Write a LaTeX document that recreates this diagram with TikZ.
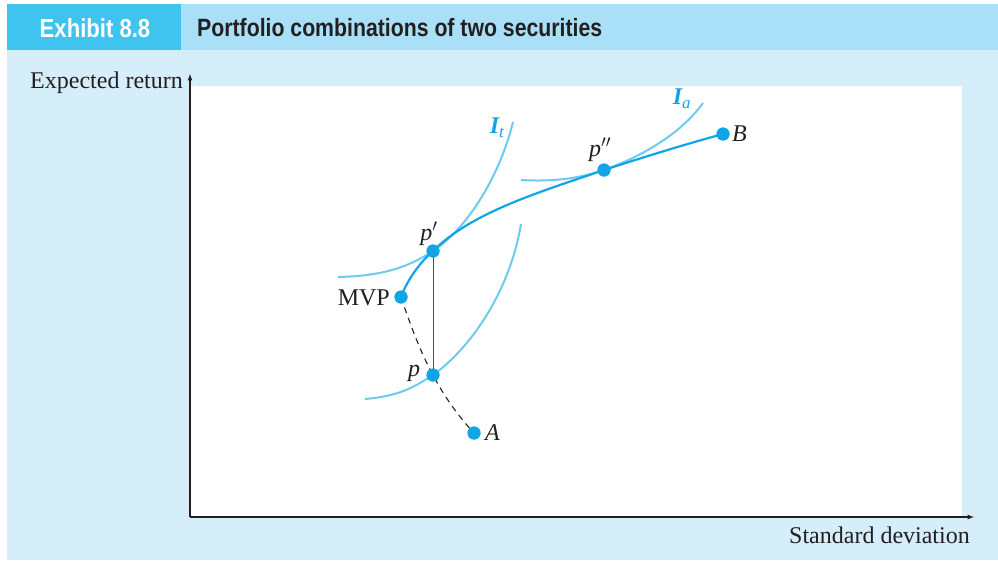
\documentclass[tikz,border=0pt]{standalone}
\usepackage{fontspec}
\setmainfont{Liberation Serif}
\newfontfamily\headfont[FakeStretch=0.85]{Liberation Sans}
\usepackage{tikz}
\usetikzlibrary{calc}
\definecolor{headdark}{HTML}{3FC4F0}
\definecolor{headlight}{HTML}{A9DFF7}
\definecolor{panel}{HTML}{D6EDFA}
\definecolor{indiff}{HTML}{6DCBF2}
\definecolor{front}{HTML}{12A5E6}
\definecolor{inktext}{HTML}{231F20}
\tikzset{indcurve/.style={indiff, line width=2pt}}
\tikzset{frontier/.style={front, line width=2.2pt}}
\tikzset{pt/.style={circle, fill=front, minimum size=13pt, inner sep=0pt}}
\tikzset{lbl/.style={text=inktext, font=\fontsize{24}{28}\selectfont, inner sep=1pt}}

\begin{document}
\begin{tikzpicture}[x=1pt, y=-1pt]
	\useasboundingbox (0,0) rectangle (998,560);

	% Header and panel
	\fill[panel] (7,50) rectangle (998,560);
	\fill[headlight] (7,4) rectangle (998,50);
	\fill[headdark] (7,4) rectangle (181,50);
	\node[text=white, font=\headfont\bfseries\fontsize{26}{28}\selectfont] (exhibit) at (95,28) {Exhibit 8.8};
	\node[anchor=west, inner sep=0pt, text=inktext, font=\headfont\bfseries\fontsize{25}{28}\selectfont] (title) at (197,28) {Portfolio combinations of two securities};

	% Plot area
	\fill[white] (190,86) rectangle (962,517);

	\coordinate (origin) at (190,517);	\coordinate (ytop) at (190,74);	\coordinate (xend) at (974,517);

	\node[pt] (mvp) at (401,297) {};
	\node[pt] (pp) at (433,251) {};
	\node[pt] (ppp) at (604,170) {};
	\node[pt] (b) at (723,134) {};
	\node[pt] (p) at (433,375) {};
	\node[pt] (a) at (474,433) {};

	% Indifference curves
	\draw[indcurve] (338,277) .. controls (385,276) and (410,266) .. (pp.center) .. controls (468,228) and (500,175) .. (513,122);
	\draw[indcurve] (365,399) .. controls (400,396) and (414,387) .. (p.center) .. controls (472,347) and (510,290) .. (521,224);
	\draw[indcurve] (521,180) .. controls (555,182) and (580,178) .. (ppp.center) .. controls (640,157) and (680,135) .. (703,103);

	% Efficient part and inefficient part of the set
	\draw[frontier] (mvp.center) .. controls (406,283) and (418,264) .. (pp.center) .. controls (472,212) and (540,192) .. (ppp.center) .. controls (650,155) and (690,143) .. (b.center);
	\draw[inktext, line width=1.1pt, dash pattern=on 6pt off 5pt] (mvp.center) .. controls (412,330) and (422,355) .. (p.center) .. controls (445,398) and (460,418) .. (a.center);
	\draw[inktext!80, line width=1pt] (pp.center) -- (p.center);

	% redraw dots on top
	\foreach \n/\x/\y in {mvp/401/297, pp/433/251, ppp/604/170, b/723/134, p/433/375, a/474/433}
		\fill[front] (\x,\y) circle (6.5pt);

	% Axes
	\draw[inktext, line width=1.2pt, -latex] (origin) -- (ytop);
	\draw[inktext, line width=1.2pt, -latex] (origin) -- (xend);

	% Labels
	\node[lbl, anchor=east] (ylabel) at (184,83) {Expected return};
	\node[lbl, anchor=east] (xlabel) at (971,535) {Standard deviation};
	\node[lbl] (mvplabel) [anchor=east] at (391,298) {MVP};
	\node[lbl] (plabel) at (414,373) {\itshape p};
	\node[lbl] (pplabel) at (429,234) {\itshape p\/$'$};
	\node[lbl] (ppplabel) at (600,150) {\itshape p\/$''$};
	\node[lbl, anchor=west] (alabel) at (484,433) {\itshape A};
	\node[lbl, anchor=west] (blabel) at (731,134) {\itshape B};
	\node[text=front, font=\fontsize{24}{28}\selectfont] (itlabel) at (497,128) {{\bfseries\itshape I}\textsubscript{\itshape t}};
	\node[text=front, font=\fontsize{24}{28}\selectfont] (ialabel) at (682,99) {{\bfseries\itshape I}\textsubscript{\itshape a}};
\end{tikzpicture}
\end{document}
